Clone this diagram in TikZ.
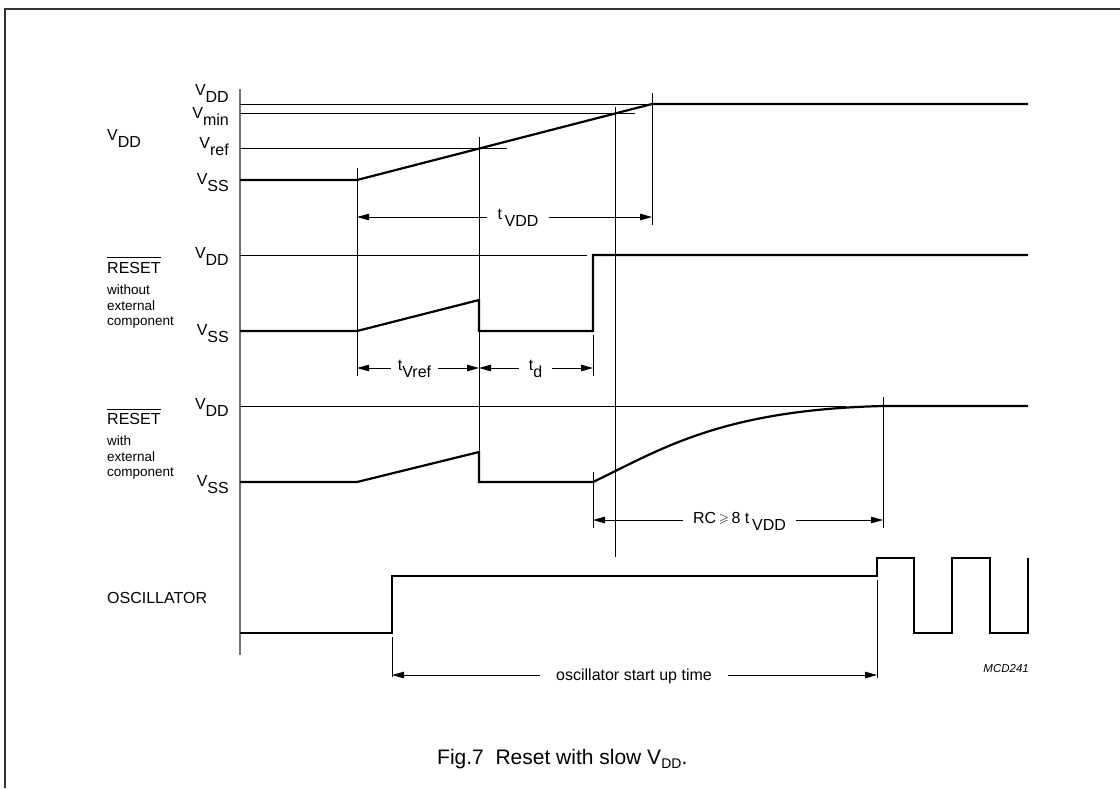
\documentclass[tikz,border=0pt]{standalone}
\usepackage{fontspec}
\setmainfont{Liberation Sans}
\usepackage{amssymb}
\usetikzlibrary{arrows.meta}
\newcommand\fmain{\fontsize{16}{19}\selectfont}
\newcommand\fsmall{\fontsize{13.5}{15.7}\selectfont}
\newcommand\fcap{\fontsize{21}{25}\selectfont}
\newcommand\fmcd{\fontsize{11.5}{14}\selectfont\itshape}
\newcommand\lo[1]{\raisebox{-7pt}{#1}}
\newcommand\ovl[1]{\vbox{\hrule height 0.9pt\kern 3.6pt\hbox{#1}}}
\begin{document}
\begin{tikzpicture}[x=1pt,y=-1pt,
  wave/.style={line width=2.2pt,line join=miter},
  thinl/.style={line width=0.9pt},
  axisl/.style={line width=1.8pt,draw=black!55},
  dim/.style={line width=0.9pt,-{Triangle[length=12pt,width=6.5pt]}},
  lbl/.style={inner sep=0pt,font=\fmain},
  slbl/.style={inner sep=0pt,font=\fsmall},
  dlbl/.style={inner ysep=0pt,inner xsep=10pt,font=\fmain,anchor=base}]
\useasboundingbox (0,0) rectangle (1120,788);
% frame
\draw[line width=2pt,draw=black!80] (5,788) -- (5,8.5) -- (1120,8.5);
% axis
\draw[axisl] (240,89) -- (240,655);

% ---------- VDD section ----------
\node[lbl,anchor=base west] (vddlab) at (107,140) {V\lo{DD}};
\node[lbl,anchor=base east] (l1dd) at (229,95) {V\lo{DD}};
\node[lbl,anchor=base east] (l1min) at (229,118) {V\lo{min}};
\node[lbl,anchor=base east] (l1ref) at (229,148.5) {V\lo{ref}};
\node[lbl,anchor=base east] (l1ss) at (229,184) {V\lo{SS}};
\draw[thinl] (240,104) -- (652,104);
\draw[thinl] (240,113.7) -- (635,113.7);
\draw[thinl] (240,148) -- (507,148);
\draw[wave] (240,180) -- (357,180) -- (652,104) -- (1028,104);

% vertical markers
\draw[thinl] (357,168) -- (357,376);
\draw[thinl] (479,137) -- (479,452);
\draw[thinl] (615,107) -- (615,557);
\draw[thinl] (652,93) -- (652,225);

% tVDD
\coordinate (tv1) at (357,217);
\coordinate (tv2) at (652,217);
\node[dlbl] (ltvdd) at (518,219) {t\,\lo{VDD}};
\draw[dim] (ltvdd.west |- tv1) -- (tv1);
\draw[dim] (ltvdd.east |- tv2) -- (tv2);

% ---------- RESET without ----------
\node[lbl,anchor=base west] (r1) at (107,273) {\ovl{RESET}};
\node[slbl,anchor=base west] (r1a) at (107,294.5) {without};
\node[slbl,anchor=base west] (r1b) at (107,310) {external};
\node[slbl,anchor=base west] (r1c) at (107,325.5) {component};
\node[lbl,anchor=base east] (l2dd) at (229,258.3) {V\lo{DD}};
\node[lbl,anchor=base east] (l2ss) at (229,335.5) {V\lo{SS}};
\draw[thinl] (240,255) -- (587,255);
\draw[wave] (240,331) -- (357,331) -- (479,300) -- (479,331) -- (593,331) -- (593,255) -- (1028,255);
\draw[thinl] (593,335) -- (593,376);
\coordinate (tr1) at (357,368);
\coordinate (tr2) at (479,368);
\coordinate (tr3) at (593,368);
\node[dlbl,inner xsep=7pt] (ltvref) at (414.5,370) {t\lo{Vref}};
\draw[dim] (ltvref.west |- tr1) -- (tr1);
\draw[dim] (ltvref.east |- tr2) -- (tr2);
\node[dlbl] (ltd) at (535.5,370) {t\lo{d}};
\draw[dim] (ltd.west |- tr2) -- (tr2);
\draw[dim] (ltd.east |- tr3) -- (tr3);

% ---------- RESET with ----------
\node[lbl,anchor=base west] (r2) at (107,424.5) {\ovl{RESET}};
\node[slbl,anchor=base west] (r2a) at (107,445.5) {with};
\node[slbl,anchor=base west] (r2b) at (107,461) {external};
\node[slbl,anchor=base west] (r2c) at (107,476.5) {component};
\node[lbl,anchor=base east] (l3dd) at (229,409.5) {V\lo{DD}};
\node[lbl,anchor=base east] (l3ss) at (229,486.5) {V\lo{SS}};
\draw[thinl] (240,406) -- (846,406);
\draw[wave] (240,482) -- (357,482) -- (479,452) -- (479,482) -- (593,482)
   .. controls (660,450) and (720,410) .. (883,406) -- (1028,406);
\draw[thinl] (593,472) -- (593,528);
\draw[thinl] (883,397) -- (883,528);
\coordinate (rc1) at (593,520);
\coordinate (rc2) at (883,520);
\node[dlbl] (lrc) at (739.5,523) {RC\,\raisebox{1pt}{\fontsize{13}{15}\selectfont$\geqslant$}\,8 t\,\lo{VDD}};
\draw[dim] (lrc.west |- rc1) -- (rc1);
\draw[dim] (lrc.east |- rc2) -- (rc2);

% ---------- OSCILLATOR ----------
\node[lbl,anchor=base west] (osc) at (107,603.5) {OSCILLATOR};
\draw[wave] (240,633) -- (392,633) -- (392,576) -- (877,576) -- (877,558) -- (914,558)
  -- (914,633) -- (952,633) -- (952,558) -- (990,558) -- (990,633) -- (1028,633) -- (1028,558);
\draw[thinl] (392,637) -- (392,677);
\draw[thinl] (877,580) -- (877,678);
\coordinate (os1) at (392,675);
\coordinate (os2) at (877,675);
\node[dlbl,inner xsep=16pt] (losc) at (634,680) {oscillator start up time};
\draw[dim] (losc.west |- os1) -- (os1);
\draw[dim] (losc.east |- os2) -- (os2);

\node[inner sep=0pt,font=\fmcd,anchor=base east] (mcd) at (1029,672) {MCD241};
\node[inner sep=0pt,font=\fcap,anchor=base west] (cap) at (437,764) {Fig.7\ \ Reset with slow V\raisebox{-4pt}{\fontsize{14}{16}\selectfont DD}.};
\end{tikzpicture}
\end{document}
